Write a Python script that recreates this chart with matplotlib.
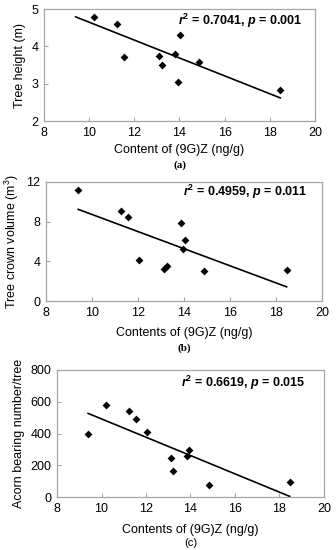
import matplotlib
matplotlib.use("Agg")
import matplotlib.pyplot as plt
import numpy as np

plt.rcParams['font.family'] = ['Liberation Sans', 'DejaVu Sans']
plt.rcParams['mathtext.fontset'] = 'custom'
plt.rcParams['mathtext.rm'] = 'Liberation Sans'
plt.rcParams['mathtext.bf'] = 'Liberation Sans:bold'
plt.rcParams['mathtext.it'] = 'Liberation Sans:italic'
plt.rcParams['mathtext.bfit'] = 'Liberation Sans:bold:italic'

# Panel (a): tree height
xa = [10.21, 11.22, 11.56, 13.10, 13.23, 13.82, 14.04, 13.94, 14.85, 18.46]
ya = [4.78, 4.59, 3.72, 3.75, 3.50, 3.79, 4.30, 3.05, 3.58, 2.82]
fit_a = (-0.2396, 7.042)
# Panel (b): tree crown volume
xb = [9.40, 11.24, 11.57, 12.05, 13.12, 13.24, 13.85, 14.05, 13.96, 14.86, 18.46]
yb = [11.23, 9.10, 8.47, 4.12, 3.22, 3.49, 7.91, 6.11, 5.28, 3.06, 3.12]
fit_b = (-0.8625, 17.35)
# Panel (c): acorn bearing number
xc = [9.40, 10.21, 11.23, 11.57, 12.05, 13.11, 13.23, 13.83, 13.95, 14.85, 18.46]
yc = [397, 580, 540, 491, 407, 245, 164, 260, 294, 77, 96]
fit_c = (-57.7, 1069)
fit_range = (9.40, 18.46)

xticks = [8, 10, 12, 14, 16, 18, 20]

W, H = 336, 550
fig = plt.figure(figsize=(W/100, H/100), dpi=100)

def box(l, r, t, b):
    return [l/W, 1-b/H, (r-l)/W, (b-t)/H]

panels = [
    dict(rect=box(44, 315, 9, 121), x=xa, y=ya, fit=fit_a, ylim=(2, 5), yticks=[2, 3, 4, 5],
         ylabel='Tree height (m)', xlabel='Content of (9G)Z (ng/g)',
         txt=r'$\mathbfit{r}^{\mathbf{2}}$ = 0.7041, $\mathbfit{p}$ = 0.001', txy=(302, 21),
         tag='(a)', tagy=165, xly=150, tagserif=True),
    dict(rect=box(46, 322, 182, 301), x=xb, y=yb, fit=fit_b, ylim=(0, 12), yticks=[0, 4, 8, 12],
         ylabel='Tree crown volume (m$^3$)', xlabel='Contents of (9G)Z (ng/g)',
         txt=r'$\mathbfit{r}^{\mathbf{2}}$ = 0.4959, $\mathbfit{p}$ = 0.011', txy=(307, 192),
         tag='(b)', tagy=348, xly=333, tagserif=True),
    dict(rect=box(57, 324, 370, 497), x=xc, y=yc, fit=fit_c, ylim=(0, 800), yticks=[0, 200, 400, 600, 800],
         ylabel='Acorn bearing number/tree', xlabel='Contents of (9G)Z (ng/g)',
         txt=r'$\mathbfit{r}^{\mathbf{2}}$ = 0.6619, $\mathbfit{p}$ = 0.015', txy=(305, 383),
         tag='(c)', tagy=543, xly=530, tagserif=False),
]

for p in panels:
    ax = fig.add_axes(p['rect'])
    ax.scatter(p['x'], p['y'], marker='D', s=16, color='black', zorder=3, linewidths=0)
    fx = np.array(fit_range)
    ax.plot(fx, p['fit'][0]*fx + p['fit'][1], color='black', lw=1.2)
    ax.set_xlim(8, 20)
    ax.set_xticks(xticks)
    ax.set_ylim(*p['ylim'])
    ax.set_yticks(p['yticks'])
    for s in ax.spines.values():
        s.set_color('#a6a6a6')
        s.set_linewidth(0.9)
    ax.tick_params(direction='in', length=3, color='#a6a6a6', labelsize=9, pad=4)
    ax.set_ylabel(p['ylabel'], fontsize=9)
    fig.text(p['txy'][0]/W, 1-p['txy'][1]/H, p['txt'], ha='right', va='center',
             fontsize=9, fontweight='bold')
    cx = (p['rect'][0] + p['rect'][2]/2)
    fig.text(cx, 1-p['xly']/H, p['xlabel'], ha='center', va='center', fontsize=9)
    if p['tagserif']:
        fig.text(cx, 1-p['tagy']/H, p['tag'], ha='center', va='center', fontsize=8,
                 family='Liberation Serif', fontweight='bold')
    else:
        fig.text(cx, 1-p['tagy']/H, p['tag'], ha='center', va='center', fontsize=8)

fig.savefig('out.png', dpi=100)
